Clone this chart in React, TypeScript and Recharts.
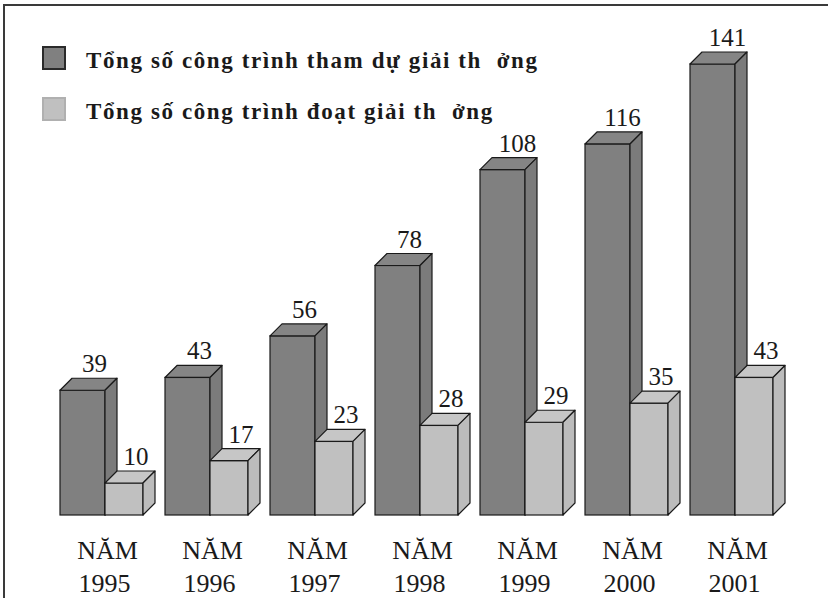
import React from 'react';
import { BarChart, Bar, XAxis, YAxis, Legend, LabelList } from 'recharts';

const years = ['1995', '1996', '1997', '1998', '1999', '2000', '2001'];
const thamDu = [39, 43, 56, 78, 108, 116, 141];
const doatGiai = [10, 17, 23, 28, 29, 35, 43];
const seriesNames = ['Tổng số công trình tham dự giải th  ởng', 'Tổng số công trình đoạt giải th  ởng'];
const yearPrefix = 'NĂM';

const data = years.map((y, i) => ({ year: y, tham: thamDu[i], doat: doatGiai[i] }));

const DEPTH = 12;
const EXTRA = 3.5;
const SERIF = '"Liberation Serif", "Times New Roman", serif';

const Box3D = (props: any) => {
  const { x, y, width, height, kind } = props;
  if (height == null || height <= 0) return null;
  let x0 = x;
  let x1 = x + width;
  if (kind === 'dark') x1 = x + width + EXTRA;
  else x0 = x + EXTRA;
  const d = DEPTH;
  const yb = y + height;
  const front = kind === 'dark' ? '#808080' : '#c0c0c0';
  const top = kind === 'dark' ? '#858585' : '#c6c6c6';
  const side = kind === 'dark' ? '#7b7b7b' : '#bcbcbc';
  const stroke = '#1a1a1a';
  return (
    <g>
      <rect x={x0} y={y} width={x1 - x0} height={height} fill={front} stroke={stroke} strokeWidth={1.2} />
      <polygon points={`${x0},${y} ${x0 + d},${y - d} ${x1 + d},${y - d} ${x1},${y}`} fill={top} stroke={stroke} strokeWidth={1.2} strokeLinejoin="round" />
      <polygon points={`${x1},${y} ${x1 + d},${y - d} ${x1 + d},${yb - d} ${x1},${yb}`} fill={side} stroke={stroke} strokeWidth={1.2} strokeLinejoin="round" />
    </g>
  );
};

const makeLabel = (kind: string) => (props: any) => {
  const { x, y, width, value } = props;
  let cx;
  if (kind === 'dark') cx = x + (width + EXTRA) / 2 + 12;
  else cx = x + EXTRA + (width - EXTRA) / 2 + 12;
  if (String(value).length > 2) cx += 3;
  return (
    <text x={cx} y={y - 18} textAnchor="middle" fontFamily={SERIF} fontSize={25} fill="#1a1a1a">
      {value}
    </text>
  );
};

const YearTick = (props: any) => {
  const { x, y, payload } = props;
  return (
    <text x={x + 5} y={y} textAnchor="middle" fontFamily={SERIF} fontSize={26} fill="#1a1a1a">
      <tspan x={x + 6} dy={36}>{yearPrefix}</tspan>
      <tspan x={x + 3} dy={33}>{payload.value}</tspan>
    </text>
  );
};

const LegendContent = (props: any) => {
  const { payload } = props;
  return (
    <div style={{ fontFamily: SERIF, position: 'relative' }}>
      {(payload || []).map((p: any, i: number) => (
        <div
          key={i}
          style={{ display: 'flex', alignItems: 'flex-start', height: 24, marginBottom: i === 0 ? 26.5 : 0 }}
        >
          <div
            style={{
              width: 20,
              height: 20,
              background: p.color,
              border: i === 0 ? '2px solid #2a2a2a' : '2px solid #b0b0b0',
              marginRight: 20,
              flexShrink: 0,
            }}
          />
          <span
            style={{
              fontWeight: 'bold',
              fontSize: 23,
              lineHeight: '29px',
              letterSpacing: 1.6,
              color: '#1a1a1a',
              whiteSpace: 'pre',
            }}
          >
            {p.value}
          </span>
        </div>
      ))}
    </div>
  );
};

export default function App() {
  return (
    <div style={{ position: 'absolute', left: 0, top: 0, width: 828, height: 598, overflow: 'hidden', background: '#fff' }}>
      <div
        style={{
          position: 'absolute',
          left: 3,
          top: 4,
          width: 900,
          height: 700,
          border: '2px solid #3a3a3a',
          boxSizing: 'border-box',
        }}
      />
      <div style={{ position: 'absolute', left: 0, top: 0 }}>
        <BarChart
          width={828}
          height={598}
          data={data}
          margin={{ top: 64, right: 44, bottom: 13, left: 49 }}
          barGap={0}
          barSize={41.5}
        >
          <XAxis dataKey="year" axisLine={false} tickLine={false} height={70} tick={<YearTick />} interval={0} />
          <YAxis hide domain={[0, 141]} />
          <Legend
            layout="vertical"
            align="center"
            verticalAlign="middle"
            content={<LegendContent />}
            wrapperStyle={{ left: 42, top: 46, width: 700 }}
          />
          <Bar dataKey="tham" name={seriesNames[0]} fill="#808080" isAnimationActive={false} shape={<Box3D kind="dark" />}>
            <LabelList dataKey="tham" content={makeLabel('dark')} />
          </Bar>
          <Bar dataKey="doat" name={seriesNames[1]} fill="#c0c0c0" isAnimationActive={false} shape={<Box3D kind="light" />}>
            <LabelList dataKey="doat" content={makeLabel('light')} />
          </Bar>
        </BarChart>
      </div>
    </div>
  );
}
